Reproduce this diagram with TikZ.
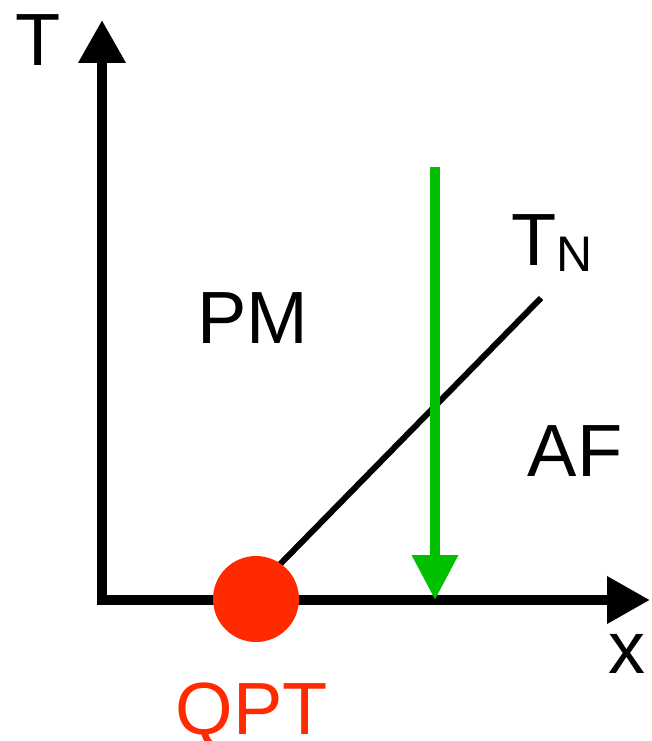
\documentclass[tikz,border=0pt]{standalone}
\usepackage{fontspec}
\setmainfont{Liberation Sans}
\usetikzlibrary{arrows.meta}
\definecolor{qptred}{RGB}{255,42,0}
\definecolor{arrgreen}{RGB}{0,192,0}
\begin{document}
\begin{tikzpicture}[x=1pt,y=-1pt,
  bigtip/.tip={Triangle[length=43pt,width=45pt]},
  axis/.style={line width=10pt,line join=miter},
  lbl/.style={inner sep=0pt,anchor=base,font=\fontsize{74}{74}\selectfont}]
\useasboundingbox (0,0) rectangle (651,741);
\coordinate (ytop) at (102,20);
\coordinate (o) at (102,600);
\coordinate (xend) at (650,600);
\coordinate (dstart) at (245,600);
\coordinate (tn) at (541,298);
\coordinate (gtop) at (435,167);
\coordinate (gbot) at (435,600);
\draw[axis,bigtip-bigtip] (ytop) -- (o) -- (xend);
\draw[line width=6pt] (dstart) -- (tn);
\node[circle,fill=qptred,minimum size=86pt,inner sep=0pt] (qpt) at (256,599) {};
\draw[arrgreen,line width=10pt,-{Triangle[length=45pt,width=44pt]}] (gtop) -- (gbot);
\node[lbl] (tlab) at (38,66) {T};
\node[lbl,anchor=base west] (tnlab) at (511,265) {T\raisebox{-6pt}{\fontsize{50}{50}\selectfont N}};
\node[lbl] (pm) at (253,343) {PM};
\node[lbl] (af) at (575,476) {AF};
\node[lbl] (xlab) at (627,673) {x};
\node[lbl,text=qptred] (qptlab) at (252,734) {QPT};
\end{tikzpicture}
\end{document}
